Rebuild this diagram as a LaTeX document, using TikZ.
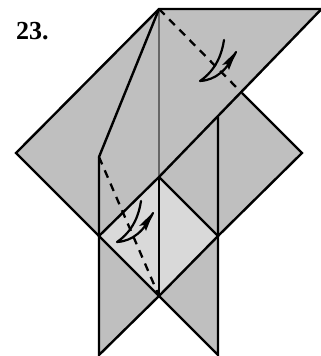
\documentclass[tikz,border=0pt]{standalone}
\usepackage{fontspec}
\setmainfont{Liberation Serif}
\definecolor{paper}{HTML}{BFBFBF}
\definecolor{lightpaper}{HTML}{D9D9D9}
\tikzset{
  crease/.style={line width=2.4pt,black,line join=miter},
  fold/.style={line width=2.3pt,black,dash pattern=on 8pt off 6.5pt},
  hairline/.style={line width=1.4pt,black!60},
  curl/.style={line width=2.2pt,black,line cap=round,line join=round}
}
\newcommand{\curlarrow}[2]{%
  \begin{scope}[shift={(#1,#2)}]
    \draw[curl] (0,0) .. controls (-2,14) and (-8,30) .. (-24,41)
                 .. controls (-8,40) and (3,30) .. (12,12);
    \fill[black] (12.5,11) -- (-2,25) -- (2.5,24) -- (5,30) -- cycle;
  \end{scope}}
\begin{document}
\begin{tikzpicture}[x=1pt,y=-1pt]
  \useasboundingbox (0,0) rectangle (321,356);
  \coordinate (apex) at (159,9);
  \coordinate (tr) at (321.5,9);
  \coordinate (notch) at (242,93);
  \coordinate (rp) at (302,153);
  \coordinate (rv) at (218,236);
  \coordinate (br) at (218,355);
  \coordinate (mid) at (159,296);
  \coordinate (bl) at (99,355);
  \coordinate (lv) at (99,236);
  \coordinate (lp) at (16,153);
  \coordinate (dt) at (159,177);
  \coordinate (kink) at (99,157);
  \coordinate (rt) at (218,117);
  \fill[paper] (apex) -- (tr) -- (notch) -- (rp) -- (rv) -- (br) -- (mid) -- (bl) -- (lv) -- (lp) -- cycle;
  \fill[lightpaper] (dt) -- (rv) -- (mid) -- (lv) -- cycle;
  \draw[hairline] (apex) -- (dt);
  \draw[crease] (dt) -- (mid);
  \draw[crease] (tr) -- (apex) -- (lp) -- (lv) -- (bl) -- (mid) -- (br) -- (rt);
  \draw[crease] (tr) -- (dt) -- (lv) -- (mid) -- (rv) -- (dt);
  \draw[crease] (notch) -- (rp) -- (rv);
  \draw[crease] (apex) -- (kink) -- (lv);
  \draw[fold] (apex) -- (notch);
  \draw[fold] (kink) -- (mid);
  \curlarrow{224}{40}
  \curlarrow{141}{201}
  \node[anchor=base west,inner sep=0pt,font=\bfseries\fontsize{26}{26}\selectfont] (num) at (16,39) {23.};
\end{tikzpicture}
\end{document}
